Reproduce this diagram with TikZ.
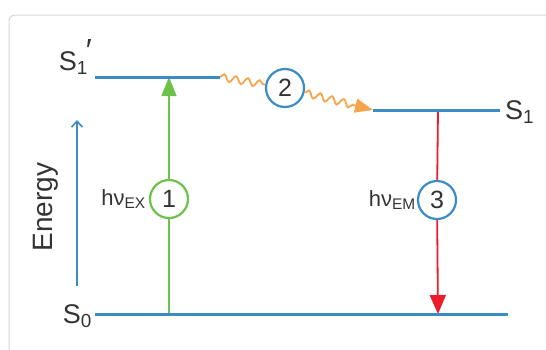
\documentclass[tikz,border=0pt]{standalone}
\usepackage{fontspec}
\setmainfont{Liberation Sans}
\usetikzlibrary{positioning}
\usetikzlibrary{arrows.meta}
\usetikzlibrary{decorations.pathmorphing}
\definecolor{lvlblue}{HTML}{3B8CC5}
\definecolor{exgreen}{HTML}{6CC24A}
\definecolor{emred}{HTML}{EC1C2C}
\definecolor{relorange}{HTML}{F7A54C}
\definecolor{txtgray}{HTML}{333333}
\definecolor{framegray}{HTML}{D6D6D6}
\tikzset{level/.style={draw=lvlblue, line width=3pt}}
\tikzset{lvltxt/.style={text=txtgray, inner sep=2pt, font=\fontsize{27}{30}\selectfont}}
\tikzset{hvtxt/.style={text=txtgray, inner sep=1pt, font=\fontsize{22}{24}\selectfont}}
\tikzset{stepcirc/.style={circle, fill=white, line width=2.2pt, minimum size=38pt, inner sep=0pt, text=txtgray, font=\fontsize{25}{26}\selectfont}}
\tikzset{wavy/.style={draw=relorange, line width=1.8pt, decorate, decoration={snake, amplitude=3.5pt, segment length=12pt}}}

\begin{document}
\begin{tikzpicture}[x=1pt, y=-1pt, node distance=2pt]
\useasboundingbox (0,0) rectangle (546,349);
\clip (0,0) rectangle (546,349);
\draw[framegray, line width=1pt, rounded corners=6pt] (9,15) rectangle (580,380);

% levels
\coordinate (s1pL) at (95,77);
\coordinate (s1pR) at (220,77);
\coordinate (s1L) at (373,110);
\coordinate (s1R) at (500,110);
\coordinate (s0L) at (95,314);
\coordinate (s0R) at (508,314);
\node[lvltxt, left=1pt of s1pL, anchor=south east] (s1plab) {S\textsubscript{1}\kern-2pt\raisebox{9pt}{\fontsize{32}{32}\selectfont ′}};
\node[lvltxt, right=3pt of s1R, anchor=base west, yshift=-9pt] (s1lab) {S\textsubscript{1}};
\node[lvltxt, left=1pt of s0L, anchor=base east, yshift=-9pt] (s0lab) {S\textsubscript{0}};

% steps
\coordinate (exB) at (169,314);
\coordinate (exT) at (169,77);
\coordinate (emT) at (438,110);
\coordinate (emB) at (438,314);
\node[stepcirc, draw=exgreen] (c1) at (169,199) {1};
\node[stepcirc, draw=lvlblue] (c2) at (285,88) {2};
\node[stepcirc, draw=lvlblue] (c3) at (437,200) {3};
\node[hvtxt, left=of c1, anchor=east] (hvex) {hν\textsubscript{EX}};
\node[hvtxt, left=0pt of c3, anchor=east] (hvem) {hν\textsubscript{EM}};

% energy axis
\coordinate (enB) at (77,286);
\coordinate (enT) at (77,120);
\node[lvltxt, rotate=90, font=\fontsize{28}{30}\selectfont] (energy) at (46,207) {Energy};

\draw[exgreen, line width=1.7pt] (exB) -- (c1);
\draw[exgreen, line width=1.7pt, -{Triangle[length=19pt, width=15pt]}] (c1) -- (exT);
\draw[emred, line width=1.8pt] (emT) -- (c3);
\draw[emred, line width=1.8pt, -{Triangle[length=19pt, width=16pt]}] (c3) -- (emB);
\draw[wavy] (s1pR) -- (c2);
\draw[wavy, decoration={post length=16pt}, -{Triangle[length=18pt, width=14pt]}, relorange] (c2) -- (s1L);
\draw[lvlblue, line width=1.6pt, -{Straight Barb[length=6pt, width=11pt]}] (enB) -- (enT);

\draw[level] (s1pL) -- (s1pR);
\draw[level] (s1L) -- (s1R);
\draw[level] (s0L) -- (s0R);
\end{tikzpicture}
\end{document}
